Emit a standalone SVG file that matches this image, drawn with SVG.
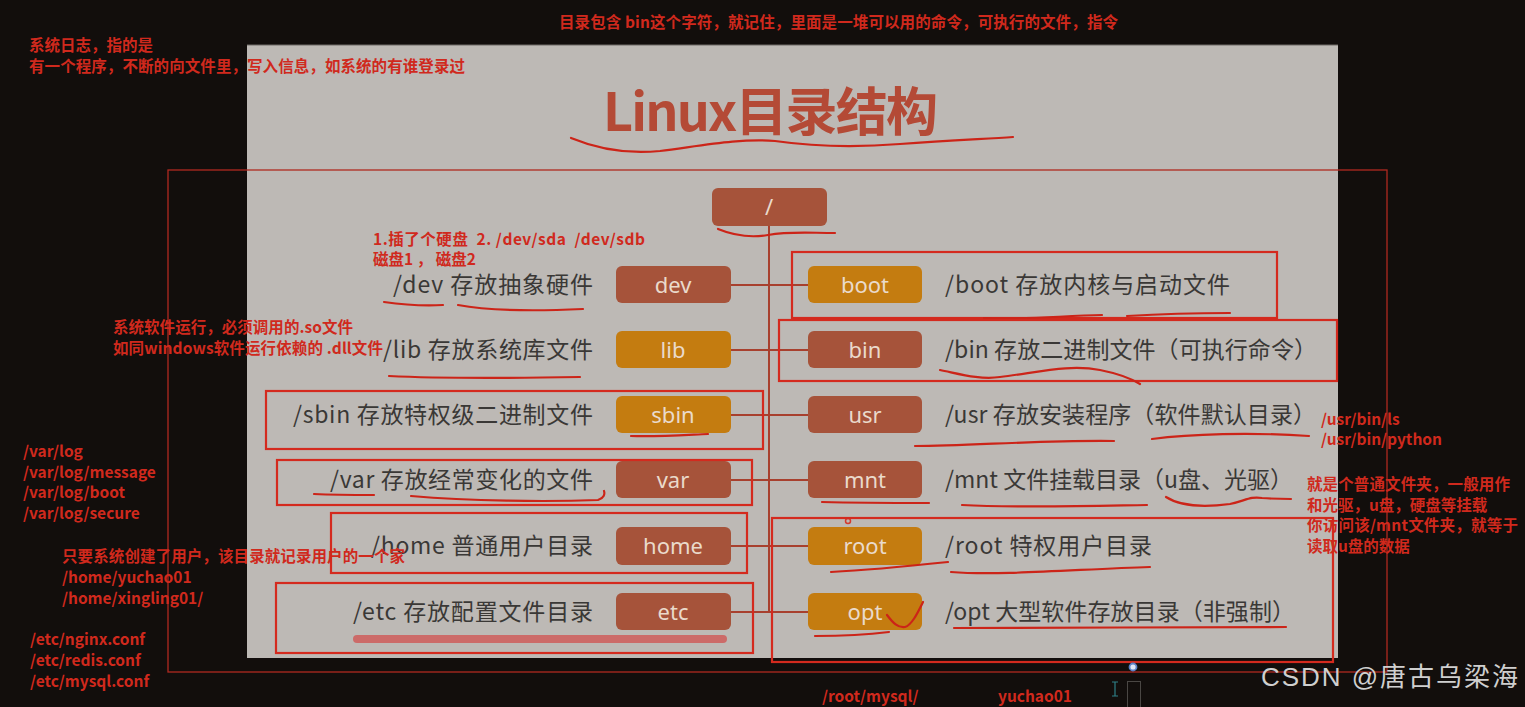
<svg xmlns="http://www.w3.org/2000/svg" width="1525" height="707" viewBox="0 0 1525 707">
<defs>
<style>
.bg{fill:#120e0c}
.slide{fill:#bdb9b5}
.rust{fill:#a6533a}
.amber{fill:#c47c10}
.ntext{font-family:"Noto Sans","Noto Sans CJK SC",sans-serif;font-size:22px;fill:#eadacb;text-anchor:middle}
.lab{font-family:"Noto Sans CJK SC","Noto Sans",sans-serif;font-size:23px;fill:#3a3836}
.labl{text-anchor:end}
.ann{font-family:"Noto Sans CJK SC","Noto Sans",sans-serif;font-size:15.5px;font-weight:bold;fill:#d0291d}
.box{fill:none;stroke:#d42a1e;stroke-width:2.2}
.ink{fill:none;stroke:#cc2418;stroke-width:2.2;stroke-linecap:round;stroke-linejoin:round}
.conn{fill:none;stroke:#a8402e;stroke-width:2}
</style>
</defs>
<rect class="bg" x="0" y="0" width="1525" height="707"/>
<rect class="slide" x="247" y="45" width="1091" height="613"/>
<line x1="247" y1="45" x2="1338" y2="45" stroke="#6e6a66" stroke-width="1"/>
<rect x="168" y="170" width="1219" height="502" fill="none" stroke="#b02a20" stroke-width="1.3"/>

<g id="title">
<text x="603" y="131" font-family="Noto Sans CJK SC, Noto Sans, sans-serif" font-size="52" font-weight="bold" fill="#b44a36" textLength="335">Linux目录结构</text>
<path class="ink" d="M571 138 C600 150 630 154 660 151 C700 146 740 138 775 141 C810 146 850 148 900 144 C950 140 985 139 1013 137"/>
</g>

<g id="connectors">
<line class="conn" x1="769" y1="226" x2="769" y2="612"/>
<line class="conn" x1="731" y1="285" x2="808" y2="285"/>
<line class="conn" x1="731" y1="350" x2="808" y2="350"/>
<line class="conn" x1="731" y1="415" x2="808" y2="415"/>
<line class="conn" x1="731" y1="480" x2="808" y2="480"/>
<line class="conn" x1="731" y1="546" x2="808" y2="546"/>
<line class="conn" x1="731" y1="612" x2="808" y2="612"/>
</g>

<g id="node-root">
<rect class="rust" x="712" y="188" width="115" height="38" rx="6"/>
<text class="ntext" x="769" y="215">/</text>
<path class="ink" d="M718 229 C735 236 750 238 768 235 C790 231 810 233 835 233"/>
</g>

<g id="node-dev">
<rect class="rust" x="616" y="266" width="115" height="37" rx="6"/>
<text class="ntext" x="673" y="293">dev</text>
<text class="lab labl" x="593" y="293" textLength="200">/dev 存放抽象硬件</text>
<path class="ink" d="M384 302 C405 305 425 306 443 305"/>
<path class="ink" d="M458 305 C490 311 540 311 583 309"/>
</g>
<g id="node-lib">
<rect class="amber" x="616" y="331" width="115" height="37" rx="6"/>
<text class="ntext" x="673" y="358">lib</text>
<text class="lab labl" x="593" y="358" textLength="210">/lib 存放系统库文件</text>
<path class="ink" d="M389 376 C450 379 520 378 580 377"/>
</g>
<g id="node-sbin">
<rect class="amber" x="616" y="396" width="115" height="37" rx="6"/>
<text class="ntext" x="673" y="423">sbin</text>
<text class="lab labl" x="593" y="423" textLength="300">/sbin 存放特权级二进制文件</text>
<rect class="box" x="266" y="391" width="497" height="58"/>
<path class="ink" d="M631 436 C655 437 685 435 708 434"/>
</g>
<g id="node-var">
<rect class="rust" x="616" y="461" width="115" height="37" rx="6"/>
<text class="ntext" x="673" y="488">var</text>
<text class="lab labl" x="593" y="488" textLength="263">/var 存放经常变化的文件</text>
<rect class="box" x="277" y="460" width="475" height="45"/>
<path class="ink" d="M314 494 C335 495 355 495 374 495"/>
<path class="ink" d="M411 496 C470 501 545 502 598 500 C604 498 605 494 604 491"/>
</g>
<g id="node-home">
<rect class="rust" x="616" y="527" width="115" height="38" rx="6"/>
<text class="ntext" x="673" y="554">home</text>
<text class="lab labl" x="593" y="554" textLength="222">/home 普通用户目录</text>
<rect class="box" x="331" y="513" width="416" height="60"/>
</g>
<g id="node-etc">
<rect class="rust" x="616" y="593" width="115" height="37" rx="6"/>
<text class="ntext" x="673" y="620">etc</text>
<text class="lab labl" x="593" y="620" textLength="240">/etc 存放配置文件目录</text>
<rect class="box" x="276" y="583" width="477" height="70"/>
<line x1="357" y1="639" x2="723" y2="639" stroke="#cc6a68" stroke-width="8" stroke-linecap="round"/>
</g>

<g id="node-boot">
<rect class="amber" x="808" y="266" width="114" height="37" rx="6"/>
<text class="ntext" x="865" y="293">boot</text>
<text class="lab" x="945" y="293" textLength="285">/boot 存放内核与启动文件</text>
<rect class="box" x="792" y="252" width="485" height="66"/>
<path class="ink" d="M984 318 C1020 320 1060 316 1102 315"/>
<path class="ink" d="M1127 316 C1160 314 1200 313 1230 313"/>
</g>
<g id="node-bin">
<rect class="rust" x="808" y="331" width="114" height="37" rx="6"/>
<text class="ntext" x="865" y="358">bin</text>
<text class="lab" x="945" y="358" textLength="372">/bin 存放二进制文件（可执行命令）</text>
<rect class="box" x="779" y="320" width="558" height="61"/>
<path class="ink" d="M940 370 C960 374 980 380 1000 377 C1040 372 1070 364 1100 370 C1120 374 1132 379 1140 384"/>
</g>
<g id="node-usr">
<rect class="rust" x="808" y="396" width="114" height="37" rx="6"/>
<text class="ntext" x="865" y="423">usr</text>
<text class="lab" x="945" y="423" textLength="371">/usr 存放安装程序（软件默认目录）</text>
<path class="ink" d="M915 446 C970 446 1040 440 1114 441"/>
<path class="ink" d="M1152 439 C1190 434 1250 432 1309 436"/>
</g>
<g id="node-mnt">
<rect class="rust" x="808" y="461" width="114" height="37" rx="6"/>
<text class="ntext" x="865" y="488">mnt</text>
<text class="lab" x="945" y="488" textLength="348">/mnt 文件挂载目录（u盘、光驱）</text>
<path class="ink" d="M822 502 C860 503 895 503 929 503"/>
<path class="ink" d="M962 505 C1020 508 1090 506 1147 505"/>
<path class="ink" d="M1166 497 C1180 506 1200 508 1230 504 C1245 501 1250 496 1262 498 C1275 499 1285 499 1291 499"/>
</g>
<g id="node-root-dir">
<rect class="amber" x="808" y="527" width="114" height="38" rx="6"/>
<text class="ntext" x="865" y="554">root</text>
<text class="lab" x="945" y="554" textLength="207">/root 特权用户目录</text>
<path class="ink" d="M831 572 C870 570 910 566 948 562"/>
<path class="ink" d="M951 572 C1000 576 1080 569 1150 567"/>
<circle cx="848" cy="521" r="2.5" fill="none" stroke="#d43a2e" stroke-width="1.5"/>
</g>
<g id="node-opt">
<rect class="amber" x="808" y="593" width="114" height="37" rx="6"/>
<text class="ntext" x="865" y="620">opt</text>
<text class="lab" x="945" y="620" textLength="350">/opt 大型软件存放目录（非强制）</text>
<path class="ink" d="M887 615 C893 623 898 628 905 627 C912 625 918 612 923 602"/>
<path class="ink" d="M815 636 C840 636 865 635 889 632"/>
<path class="ink" d="M954 628 C1060 627 1180 628 1286 627"/>
<rect class="box" x="772" y="518" width="561" height="144"/>
</g>

<g id="annotations">
<text class="ann" x="29" y="51">系统日志，指的是</text>
<text class="ann" x="29" y="72" textLength="436">有一个程序，不断的向文件里，写入信息，如系统的有谁登录过</text>
<text class="ann" x="559" y="28" textLength="559">目录包含 bin这个字符，就记住，里面是一堆可以用的命令，可执行的文件，指令</text>
<text class="ann" x="373" y="245" textLength="272">1.插了个硬盘&#160;&#160;2. /dev/sda&#160;&#160;/dev/sdb</text>
<text class="ann" x="373" y="265">磁盘1 ， 磁盘2</text>
<text class="ann" x="113" y="333" textLength="240">系统软件运行，必须调用的.so文件</text>
<text class="ann" x="113" y="354" textLength="270">如同windows软件运行依赖的 .dll文件</text>
<text class="ann" x="23" y="457">/var/log</text>
<text class="ann" x="23" y="478">/var/log/message</text>
<text class="ann" x="23" y="498">/var/log/boot</text>
<text class="ann" x="23" y="519">/var/log/secure</text>
<text class="ann" x="62" y="562" textLength="343">只要系统创建了用户，该目录就记录用户的一个家</text>
<text class="ann" x="62" y="583">/home/yuchao01</text>
<text class="ann" x="62" y="604">/home/xingling01/</text>
<text class="ann" x="30" y="645">/etc/nginx.conf</text>
<text class="ann" x="30" y="666">/etc/redis.conf</text>
<text class="ann" x="30" y="687">/etc/mysql.conf</text>
<text class="ann" x="1321" y="425">/usr/bin/ls</text>
<text class="ann" x="1321" y="445">/usr/bin/python</text>
<text class="ann" x="1307" y="490" textLength="203">就是个普通文件夹，一般用作</text>
<text class="ann" x="1307" y="511">和光驱，u盘，硬盘等挂载</text>
<text class="ann" x="1307" y="531" textLength="211">你访问该/mnt文件夹，就等于</text>
<text class="ann" x="1307" y="552">读取u盘的数据</text>
<text class="ann" x="822" y="702">/root/mysql/</text>
<text class="ann" x="998" y="702">yuchao01</text>
</g>

<g id="screen-ui">
<circle cx="1133" cy="667" r="3.5" fill="#dfe6f4" stroke="#5b83c8" stroke-width="1.8"/>
<path d="M1112 682 H1118 M1115 682 V696 M1112 696 H1118" fill="none" stroke="#2e7f86" stroke-width="1.2"/>
<rect x="1127.5" y="681.5" width="13" height="26" fill="none" stroke="#4a4744" stroke-width="1"/>
</g>

<text x="1261" y="686" font-family="Liberation Sans, Noto Sans CJK SC, sans-serif" font-size="26" fill="#cfcfcf" textLength="257">CSDN @唐古乌梁海</text>
</svg>
